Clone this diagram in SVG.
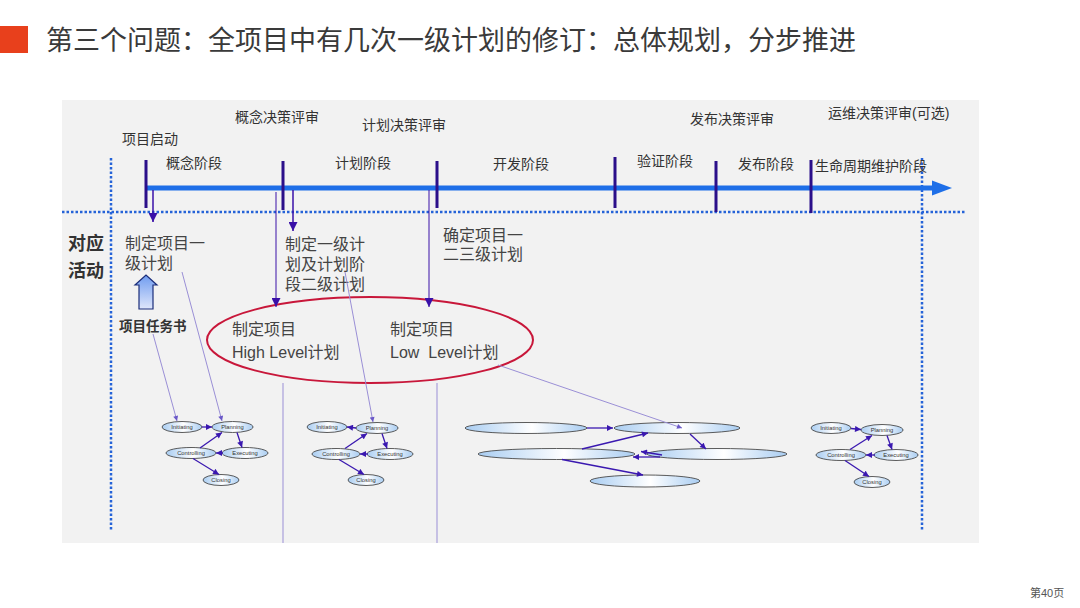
<svg xmlns="http://www.w3.org/2000/svg" width="1080" height="608" viewBox="0 0 1080 608">
<defs>
<style>
.t{font-family:"Liberation Sans","Noto Sans CJK SC",sans-serif;}
.lbl{font-size:14px;fill:#333;}
.act{font-size:16px;fill:#444;}
.pn{fill:url(#pg);stroke:#4a4a4a;stroke-width:0.9;}
.pt{font-family:"Liberation Sans",sans-serif;font-size:5.8px;fill:#333;text-anchor:middle;}
.tick{stroke:#2b0f8a;stroke-width:3;}
.dot{stroke:#2563d8;stroke-width:2.5;stroke-dasharray:2.5 2;fill:none;}
.dn{stroke:#3a10a8;fill:none;marker-end:url(#ah);}
.thin{stroke:#9a8fd6;stroke-width:1;fill:none;}
.ma{stroke:#3a18b0;stroke-width:1.3;fill:none;marker-end:url(#sa);}
</style>
<linearGradient id="pg" x1="0" y1="0" x2="1" y2="0">
<stop offset="0" stop-color="#a9cdf2"/>
<stop offset="0.55" stop-color="#ffffff"/>
<stop offset="1" stop-color="#a9cdf2"/>
</linearGradient>
<linearGradient id="ug" x1="0" y1="0" x2="0" y2="1">
<stop offset="0" stop-color="#6f9cf0"/>
<stop offset="1" stop-color="#dfe6fb"/>
</linearGradient>
<marker id="ah" viewBox="0 0 10 10" refX="10" refY="5" markerWidth="11" markerHeight="9" markerUnits="userSpaceOnUse" orient="auto">
<path d="M0,0 L10,5 L0,10 z" fill="#3a10a8"/>
</marker>
<marker id="sa" viewBox="0 0 10 10" refX="10" refY="5" markerWidth="7" markerHeight="6" markerUnits="userSpaceOnUse" orient="auto">
<path d="M0,0 L10,5 L0,10 z" fill="#3a18b0"/>
</marker>
<marker id="ta" viewBox="0 0 10 10" refX="10" refY="5" markerWidth="6" markerHeight="5" markerUnits="userSpaceOnUse" orient="auto">
<path d="M0,0 L10,5 L0,10 z" fill="#6a58c8"/>
</marker>
</defs>

<rect width="1080" height="608" fill="#ffffff"/>

<g id="title">
<rect x="0" y="26" width="28" height="27" fill="#e8401c"/>
<text class="t" x="46" y="50" font-size="27" fill="#3a3a3a">第三个问题：全项目中有几次一级计划的修订：总体规划，分步推进</text>
</g>

<rect id="panel" x="62" y="100" width="917" height="443" fill="#f2f2f2"/>

<g id="frame">
<line class="dot" x1="62" y1="212" x2="965" y2="212"/>
<line class="dot" x1="111" y1="158" x2="111" y2="530"/>
<line class="dot" x1="922" y1="158" x2="922" y2="530"/>
<line x1="283" y1="383" x2="283" y2="543" stroke="#9a8fd6" stroke-width="1"/>
<line x1="437" y1="383" x2="437" y2="543" stroke="#9a8fd6" stroke-width="1"/>
</g>

<g id="timeline">
<line x1="146" y1="188" x2="934" y2="188" stroke="#1e6fe8" stroke-width="5"/>
<polygon points="932,180.5 952,188 932,195.5" fill="#1e6fe8"/>
<line class="tick" x1="146" y1="160" x2="146" y2="208"/>
<line class="tick" x1="283" y1="161" x2="283" y2="210"/>
<line class="tick" x1="437" y1="161" x2="437" y2="208"/>
<line class="tick" x1="615" y1="157" x2="615" y2="208"/>
<line class="tick" x1="716" y1="161" x2="716" y2="212"/>
<line class="tick" x1="811" y1="160" x2="811" y2="213"/>
</g>

<g id="timeline-labels" class="t lbl">
<text x="122" y="143.5">项目启动</text>
<text x="166" y="167.5">概念阶段</text>
<text x="235" y="121.5">概念决策评审</text>
<text x="362" y="129.5">计划决策评审</text>
<text x="335" y="167.5">计划阶段</text>
<text x="493" y="168.5">开发阶段</text>
<text x="637" y="165.5">验证阶段</text>
<text x="690" y="123.5">发布决策评审</text>
<text x="738" y="168.5">发布阶段</text>
<text x="828" y="117.5">运维决策评审(可选)</text>
<text x="815" y="170.5">生命周期维护阶段</text>
</g>

<g id="activities-label" class="t">
<text x="68" y="250" font-size="18" font-weight="bold" fill="#333">对应</text>
<text x="68" y="277" font-size="18" font-weight="bold" fill="#333">活动</text>
</g>

<g id="act-1" class="t act">
<text x="125" y="249">制定项目一</text>
<text x="125" y="269">级计划</text>
</g>

<g id="act-2" class="t act">
<text x="285" y="250">制定一级计</text>
<text x="285" y="270">划及计划阶</text>
<text x="285" y="290">段二级计划</text>
</g>

<g id="act-3" class="t act">
<text x="443" y="241">确定项目一</text>
<text x="443" y="260">二三级计划</text>
</g>

<g id="charter">
<path d="M139,309 L139,285 L135,285 L146,275 L157,285 L153,285 L153,309 Z" fill="url(#ug)" stroke="#1b2d7a" stroke-width="1.2"/>
<text class="t" x="119" y="331" font-size="13.5" font-weight="bold" fill="#333">项目任务书</text>
</g>

<g id="plan-ellipse">
<ellipse cx="370" cy="340" rx="163" ry="43" fill="none" stroke="#c8173a" stroke-width="2"/>
<text class="t act" x="232" y="335">制定项目</text>
<text class="t act" x="232" y="358">High Level计划</text>
<text class="t act" x="390" y="335">制定项目</text>
<text class="t act" x="390" y="358" style="white-space:pre" xml:space="preserve">Low  Level计划</text>
</g>

<g id="process-1">
<ellipse class="pn" cx="182" cy="427" rx="20" ry="5.5"/><text class="pt" x="182" y="429">Initiating</text>
<ellipse class="pn" cx="232.5" cy="427" rx="20.5" ry="5.5"/><text class="pt" x="232.5" y="429">Planning</text>
<ellipse class="pn" cx="191" cy="453" rx="25" ry="5.5"/><text class="pt" x="191" y="455">Controlling</text>
<ellipse class="pn" cx="245" cy="453" rx="23" ry="5.5"/><text class="pt" x="245" y="455">Executing</text>
<ellipse class="pn" cx="221" cy="480" rx="18" ry="5.5"/><text class="pt" x="221" y="482">Closing</text>
</g>

<g id="process-2">
<ellipse class="pn" cx="327" cy="427" rx="20" ry="5.5"/><text class="pt" x="327" y="429">Initiating</text>
<ellipse class="pn" cx="377" cy="428" rx="21" ry="5.5"/><text class="pt" x="377" y="430">Planning</text>
<ellipse class="pn" cx="336" cy="454" rx="24" ry="5.5"/><text class="pt" x="336" y="456">Controlling</text>
<ellipse class="pn" cx="390" cy="454" rx="23" ry="5.5"/><text class="pt" x="390" y="456">Executing</text>
<ellipse class="pn" cx="366" cy="480" rx="18" ry="5.5"/><text class="pt" x="366" y="482">Closing</text>
</g>

<g id="process-3">
<ellipse class="pn" cx="831" cy="428" rx="20" ry="5.5"/><text class="pt" x="831" y="430">Initiating</text>
<ellipse class="pn" cx="882" cy="430" rx="21" ry="5.5"/><text class="pt" x="882" y="432">Planning</text>
<ellipse class="pn" cx="841" cy="455" rx="25" ry="5.5"/><text class="pt" x="841" y="457">Controlling</text>
<ellipse class="pn" cx="896" cy="455" rx="22" ry="5.5"/><text class="pt" x="896" y="457">Executing</text>
<ellipse class="pn" cx="872" cy="482" rx="18" ry="5.5"/><text class="pt" x="872" y="484">Closing</text>
</g>

<g id="process-long">
<ellipse class="pn" cx="526" cy="428" rx="61" ry="5.5"/>
<ellipse class="pn" cx="677" cy="428" rx="63" ry="5.5"/>
<ellipse class="pn" cx="556.5" cy="454" rx="78.5" ry="5.5"/>
<ellipse class="pn" cx="717" cy="454" rx="70" ry="5.5"/>
<ellipse class="pn" cx="645" cy="481" rx="55" ry="6"/>
</g>

<g id="connectors">
<line class="dn" x1="153" y1="190" x2="153" y2="222" stroke-width="1.5"/>
<line class="dn" x1="293" y1="190" x2="293" y2="231" stroke-width="1.5"/>
<line class="dn" x1="276" y1="192" x2="276" y2="307" stroke-width="1"/>
<line class="dn" x1="429" y1="190" x2="429" y2="307" stroke-width="1"/>

<line class="thin" x1="182" y1="272" x2="222" y2="421" marker-end="url(#ta)"/>
<line class="thin" x1="153" y1="334" x2="177" y2="421" marker-end="url(#ta)"/>
<line class="thin" x1="345" y1="272" x2="373" y2="422" marker-end="url(#ta)"/>
<line class="thin" x1="498" y1="365" x2="682" y2="428" marker-end="url(#ta)"/>

<line class="ma" x1="202" y1="427" x2="212" y2="427"/>
<line class="ma" x1="200" y1="448" x2="222" y2="432.5"/>
<line class="ma" x1="237" y1="432.5" x2="242" y2="447.5"/>
<line class="ma" x1="223" y1="453" x2="216" y2="453"/>
<line class="ma" x1="193" y1="458.5" x2="219" y2="474.5"/>

<line class="ma" x1="356" y1="428" x2="347" y2="427"/>
<line class="ma" x1="345" y1="448.5" x2="367" y2="433.5"/>
<line class="ma" x1="382" y1="433.5" x2="387" y2="448.5"/>
<line class="ma" x1="368" y1="454" x2="360" y2="454"/>
<line class="ma" x1="339" y1="459.5" x2="364" y2="474.5"/>

<line class="ma" x1="851" y1="428.5" x2="861" y2="429.5"/>
<line class="ma" x1="850" y1="449.5" x2="872" y2="435.5"/>
<line class="ma" x1="887" y1="435.5" x2="892" y2="449.5"/>
<line class="ma" x1="875" y1="455" x2="866" y2="455"/>
<line class="ma" x1="845" y1="460.5" x2="869" y2="476.5"/>

<line class="ma" x1="587" y1="428" x2="613" y2="428"/>
<line class="ma" x1="582" y1="449" x2="648" y2="433"/>
<line class="ma" x1="690" y1="434" x2="706" y2="449"/>
<line class="ma" x1="660" y1="457" x2="633" y2="457"/>
<line class="ma" x1="662" y1="455" x2="641" y2="451.5"/>
<line class="ma" x1="562" y1="459.5" x2="643" y2="475"/>
</g>

<text id="page" class="t" x="1030" y="597" font-size="11" fill="#555">第40页</text>
</svg>
